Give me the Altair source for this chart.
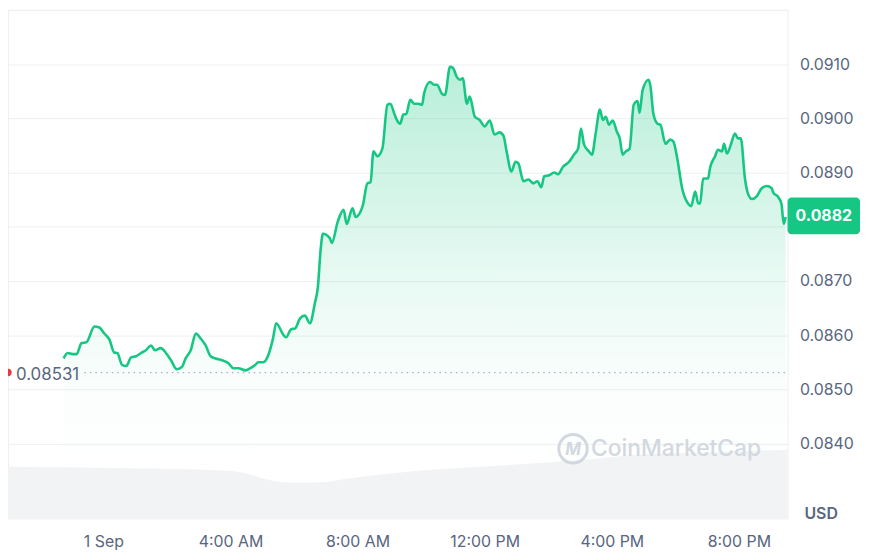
import json
import altair as alt
import pandas as pd

# ---- price series (hours relative to 1 Sep 00:00, price in USD) ----
hours = [-1.25, -1.125, -0.97, -0.84, -0.69, -0.53, -0.28, -0.125, 0.03, 0.19, 0.34, 0.44, 0.59, 0.72,
         0.875, 1.03, 1.19, 1.34, 1.5, 1.625, 1.81, 1.97, 2.125, 2.31, 2.47, 2.59, 2.75, 2.91, 3.06, 3.22,
         3.375, 3.53, 3.72, 3.94, 4.09, 4.25, 4.47, 4.625, 4.78, 4.875, 5.03, 5.19, 5.34, 5.44, 5.66, 5.75,
         5.91, 6.03, 6.19, 6.34, 6.5, 6.66, 6.75, 6.84, 6.91, 7.125, 7.19, 7.375, 7.56, 7.66, 7.84, 7.94,
         8.16, 8.31, 8.41, 8.5, 8.625, 8.78, 8.94, 9.03, 9.16, 9.22, 9.34, 9.44, 9.53, 9.66, 9.78, 9.91,
         10.03, 10.09, 10.28, 10.41, 10.5, 10.66, 10.75, 10.91, 11.0, 11.125, 11.22, 11.31, 11.44, 11.53,
         11.69, 11.84, 12.0, 12.16, 12.31, 12.47, 12.59, 12.69, 12.84, 12.97, 13.06, 13.22, 13.375, 13.53,
         13.66, 13.78, 13.875, 14.03, 14.19, 14.31, 14.47, 14.56, 14.66, 14.81, 14.94, 15.03, 15.125,
         15.28, 15.375, 15.5, 15.625, 15.72, 15.81, 15.91, 16.03, 16.16, 16.25, 16.34, 16.44, 16.56,
         16.69, 16.81, 16.875, 16.97, 17.16, 17.22, 17.31, 17.44, 17.53, 17.69, 17.84, 17.94, 18.06,
         18.22, 18.41, 18.5, 18.625, 18.72, 18.78, 18.875, 19.03, 19.09, 19.25, 19.34, 19.47, 19.53,
         19.625, 19.75, 19.875, 19.97, 20.06, 20.19, 20.28, 20.41, 20.56, 20.72, 20.875, 21.03, 21.09,
         21.22, 21.34, 21.41, 21.47]
prices = [0.08557, 0.08567, 0.08565, 0.08565, 0.08585, 0.08587, 0.08616, 0.08614, 0.08603, 0.08592,
          0.08568, 0.08567, 0.08545, 0.08543, 0.08559, 0.08561, 0.08567, 0.08572, 0.08581, 0.08572,
          0.08576, 0.08567, 0.08554, 0.08537, 0.08541, 0.08557, 0.08572, 0.08603, 0.08594, 0.08581,
          0.08561, 0.08557, 0.08554, 0.08548, 0.08539, 0.08539, 0.08535, 0.08539, 0.08545, 0.08550,
          0.08550, 0.08563, 0.08594, 0.08622, 0.08601, 0.08596, 0.08611, 0.08612, 0.08631, 0.08636,
          0.08622, 0.08660, 0.08688, 0.08759, 0.08787, 0.08779, 0.08770, 0.08809, 0.08831, 0.08805,
          0.08834, 0.08818, 0.08838, 0.08880, 0.08882, 0.08939, 0.08930, 0.08944, 0.09025, 0.09027,
          0.09008, 0.08999, 0.08990, 0.09007, 0.09008, 0.09034, 0.09027, 0.09027, 0.09025, 0.09045,
          0.09067, 0.09062, 0.09062, 0.09045, 0.09043, 0.09095, 0.09093, 0.09076, 0.09071, 0.09074,
          0.09027, 0.09040, 0.09003, 0.08997, 0.08985, 0.08996, 0.08970, 0.08974, 0.08968, 0.08939,
          0.08902, 0.08920, 0.08917, 0.08884, 0.08887, 0.08880, 0.08884, 0.08873, 0.08893, 0.08895,
          0.08900, 0.08897, 0.08911, 0.08915, 0.08920, 0.08933, 0.08944, 0.08981, 0.08952, 0.08939,
          0.08933, 0.08975, 0.09016, 0.08997, 0.09003, 0.08988, 0.08996, 0.08975, 0.08963, 0.08933,
          0.08939, 0.08944, 0.09025, 0.09032, 0.09010, 0.09052, 0.09071, 0.09058, 0.09008, 0.08990,
          0.08988, 0.08953, 0.08961, 0.08957, 0.08926, 0.08869, 0.08842, 0.08838, 0.08865, 0.08843,
          0.08843, 0.08889, 0.08889, 0.08908, 0.08930, 0.08942, 0.08939, 0.08953, 0.08935, 0.08952,
          0.08972, 0.08963, 0.08963, 0.08889, 0.08862, 0.08851, 0.08856, 0.08871, 0.08875, 0.08871,
          0.08862, 0.08856, 0.08842, 0.08805, 0.08818]

# ---- volume (arbitrary units) ----
vol_hours = [-3.0, -0.125, 3.94, 4.4, 5.03, 5.8, 6.75, 7.7, 9.25, 10.8, 12.4, 14.25, 15.5, 16.75, 18.6, 21.53]
vol_values = [5.2, 5.1, 4.8, 4.6, 4.0, 3.6, 3.6, 4.0, 4.6, 5.0, 5.3, 5.7, 6.0, 6.4, 6.6, 6.9]

open_price = 0.08531
current_price = 0.0882
open_label = "0.08531"
current_label = "0.0882"

x_ticks = [0, 4, 8, 12, 16, 20]
x_labels = ["1 Sep", "4:00 AM", "8:00 AM", "12:00 PM", "4:00 PM", "8:00 PM"]
y_ticks = [0.083, 0.084, 0.085, 0.086, 0.087, 0.088, 0.089, 0.090, 0.091, 0.092]
y_label_ticks = [0.084, 0.085, 0.086, 0.087, 0.089, 0.090, 0.091]

x_domain = [-3.0, 21.53]
y_domain = [0.08262, 0.0920]

W, H = 785, 512
GREEN = "#16c784"
GREY_TXT = "#58667e"
FONT = "Inter"

price_df = pd.DataFrame({"h": hours, "p": prices})
vol_df = pd.DataFrame({"h": vol_hours, "v": vol_values})

xs = alt.Scale(domain=x_domain, nice=False, zero=False)
ys = alt.Scale(domain=y_domain, nice=False, zero=False)

x_label_expr = f"{json.dumps(x_labels)}[indexof({json.dumps(x_ticks)}, datum.value)]"
x_axis = alt.Axis(values=x_ticks, labelExpr=x_label_expr, grid=False, domain=False, ticks=False,
                  title=None, labelFontSize=16, labelColor=GREY_TXT, labelFont=FONT, labelPadding=15,
                  labelFlush=False)
shown = " || ".join(f"abs(datum.value - {v}) < 0.00001" for v in y_label_ticks)
y_axis = alt.Axis(orient="right", values=y_ticks,
                  labelExpr=f"({shown}) ? format(datum.value, '.4f') : ''",
                  grid=True, gridColor="#eceff3", gridWidth=1, domain=False, ticks=False, title=None,
                  labelFontSize=16, labelColor=GREY_TXT, labelFont=FONT, labelPadding=12)

gradient = alt.Gradient(
    gradient="linear",
    stops=[alt.GradientStop(color="rgba(22,199,132,0)", offset=0),
           alt.GradientStop(color="rgba(22,199,132,0.02)", offset=0.2),
           alt.GradientStop(color="rgba(22,199,132,0.09)", offset=0.45),
           alt.GradientStop(color="rgba(22,199,132,0.30)", offset=1)],
    x1=1, x2=1, y1=1, y2=0,
)

base = alt.Chart(price_df)

area = base.mark_area(color=gradient).encode(
    x=alt.X("h:Q", scale=xs, axis=x_axis),
    y=alt.Y("p:Q", scale=ys, axis=y_axis),
    y2=alt.datum(0.0835),
)

line = base.mark_line(color=GREEN, strokeWidth=2.6, interpolate="monotone").encode(
    x=alt.X("h:Q", scale=xs, axis=x_axis),
    y=alt.Y("p:Q", scale=ys, axis=None),
)

volume = alt.Chart(vol_df).mark_area(color="#f1f3f5", interpolate="monotone").encode(
    x=alt.X("h:Q", scale=xs, axis=x_axis),
    y=alt.Y("v:Q", scale=alt.Scale(domain=[0, 51.2], nice=False), axis=None),
)

ref_df = pd.DataFrame({"p": [open_price], "lab": [open_label]})
open_rule = alt.Chart(ref_df).mark_rule(color="#a6b0c3", strokeDash=[1.5, 4], strokeWidth=1.3).encode(
    x=alt.value(77), x2=alt.value(W), y=alt.Y("p:Q", scale=ys, axis=None))
open_dot = alt.Chart(ref_df).mark_point(filled=True, color="#ea3943", size=55, opacity=1).encode(
    x=alt.value(0), y=alt.Y("p:Q", scale=ys, axis=None))
open_text = alt.Chart(ref_df).mark_text(align="left", baseline="middle", fontSize=17, font=FONT,
                                        color=GREY_TXT, dy=3).encode(
    x=alt.value(8), y=alt.Y("p:Q", scale=ys, axis=None), text="lab:N")

cur_df = pd.DataFrame({"p": [current_price], "lo": [current_price - 0.00034],
                       "hi": [current_price + 0.00034], "lab": [current_label]})
badge = alt.Chart(cur_df).mark_rect(color=GREEN, cornerRadius=4).encode(
    x=alt.value(W), x2=alt.value(W + 73),
    y=alt.Y("lo:Q", scale=ys, axis=None), y2="hi:Q")
badge_text = alt.Chart(cur_df).mark_text(color="white", fontSize=16, fontWeight="bold", font=FONT,
                                         baseline="middle", align="center").encode(
    x=alt.value(W + 36.5), y=alt.Y("p:Q", scale=ys, axis=None), text="lab:N")

usd = alt.Chart(pd.DataFrame({"t": ["USD"]})).mark_text(
    align="left", baseline="middle", fontSize=16, fontWeight=600, font=FONT, color=GREY_TXT).encode(
    x=alt.value(W + 17), y=alt.value(H - 4), text="t:N")

wm = alt.Chart(pd.DataFrame({"t": ["CoinMarketCap"]})).mark_text(
    align="left", baseline="middle", fontSize=23, fontWeight=500, font=FONT, color="#d3d8e0").encode(
    x=alt.value(587), y=alt.value(442), text="t:N")
wm_logo = alt.Chart(pd.DataFrame({"t": ["M"]})).mark_point(
    shape="circle", filled=False, color="#d3d8e0", size=820, strokeWidth=3, opacity=1).encode(
    x=alt.value(569), y=alt.value(442))
wm_m = alt.Chart(pd.DataFrame({"t": ["M"]})).mark_text(
    fontSize=17, fontWeight="bold", font=FONT, color="#d3d8e0", fontStyle="italic").encode(
    x=alt.value(569), y=alt.value(443), text="t:N")

chart = alt.layer(area, volume, line, open_rule, open_dot, open_text, wm_logo, wm_m, wm,
                  badge, badge_text, usd).resolve_scale(y="independent").properties(
    width=W, height=H,
    autosize=alt.AutoSizeParams(type="none"),
    padding={"left": 0, "top": 0, "right": 75, "bottom": 33},
    background="white",
).configure_view(stroke="#eceff3", strokeWidth=1)

chart.save("out.html", embed_options={"renderer": "svg", "actions": False})
